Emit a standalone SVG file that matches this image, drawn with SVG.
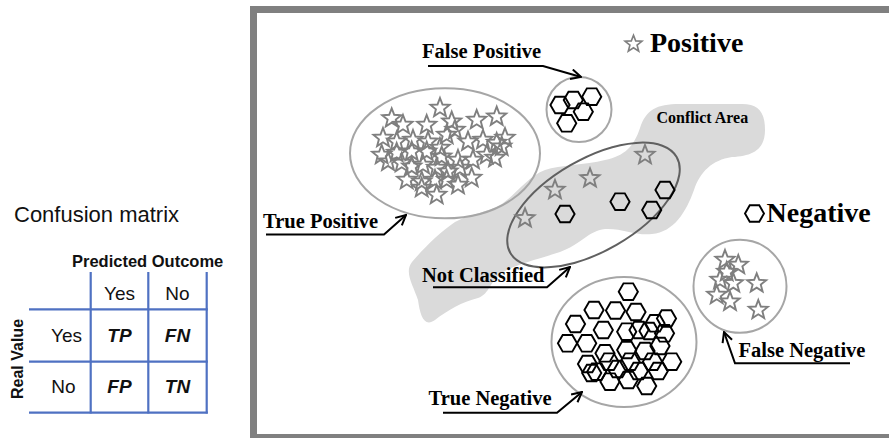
<svg xmlns="http://www.w3.org/2000/svg" xmlns:xlink="http://www.w3.org/1999/xlink" width="889" height="438" viewBox="0 0 889 438">
<style>
.sans{font-family:"Liberation Sans",Arial,sans-serif;fill:#111}
.serif{font-family:"Liberation Serif","Times New Roman",serif;font-weight:bold;fill:#000}
.grid{stroke:#4f71c2;stroke-width:2.2;fill:none}
.st{fill:none;stroke:#7f7f7f;stroke-width:1.9;stroke-linejoin:miter}
.hx{fill:none;stroke:#000;stroke-width:1.9}
.ring{fill:none;stroke:#a6a6a6;stroke-width:2}
.conn{fill:none;stroke:#000;stroke-width:2}
</style>
<defs>
<path id="star" class="st" d="M0,-10 L2.53,-3.48 L9.51,-3.09 L4.09,1.33 L5.88,8.09 L0,4.3 L-5.88,8.09 L-4.09,1.33 L-9.51,-3.09 L-2.53,-3.48 Z"/>
<path id="hex" class="hx" d="M9.6,0 L4.8,8.31 L-4.8,8.31 L-9.6,0 L-4.8,-8.31 L4.8,-8.31 Z"/>
<marker id="arr" viewBox="0 0 12 12" refX="11" refY="6" markerWidth="12" markerHeight="12" markerUnits="userSpaceOnUse" orient="auto">
<path d="M1,1 L11,6 L1,11" fill="none" stroke="#000" stroke-width="2"/>
</marker>
</defs>
<rect width="889" height="438" fill="#fff"/>

<g id="confusion-matrix">
<text class="sans" x="14" y="222" font-size="22">Confusion matrix</text>
<text class="sans" x="72" y="267" font-size="16.5" font-weight="bold">Predicted Outcome</text>
<text class="sans" transform="translate(23,359) rotate(-90)" text-anchor="middle" font-size="16" font-weight="bold">Real Value</text>
<line class="grid" x1="90.7" y1="272" x2="90.7" y2="413.5"/>
<line class="grid" x1="148.3" y1="272" x2="148.3" y2="413.5"/>
<line class="grid" x1="206.7" y1="272" x2="206.7" y2="413.5"/>
<line class="grid" x1="29" y1="309.3" x2="207.8" y2="309.3"/>
<line class="grid" x1="29" y1="361.7" x2="207.8" y2="361.7"/>
<line class="grid" x1="29" y1="412.7" x2="207.8" y2="412.7"/>
<text class="sans" x="119.5" y="300" font-size="19" text-anchor="middle">Yes</text>
<text class="sans" x="177.5" y="300" font-size="19" text-anchor="middle">No</text>
<text class="sans" x="66.5" y="342" font-size="19" text-anchor="middle">Yes</text>
<text class="sans" x="63.5" y="393" font-size="19" text-anchor="middle">No</text>
<text class="sans" x="119.5" y="342" font-size="19" text-anchor="middle" font-weight="bold" font-style="italic">TP</text>
<text class="sans" x="177.5" y="342" font-size="19" text-anchor="middle" font-weight="bold" font-style="italic">FN</text>
<text class="sans" x="119.5" y="393" font-size="19" text-anchor="middle" font-weight="bold" font-style="italic">FP</text>
<text class="sans" x="177.5" y="393" font-size="19" text-anchor="middle" font-weight="bold" font-style="italic">TN</text>
</g>

<rect id="frame" x="253.5" y="9.5" width="650" height="428" fill="none" stroke="#808080" stroke-width="7"/>

<g id="conflict-area">
<path fill="#dadada" d="M640,128 C646,110 656,104 680,104 L742,104 C760,104 765,114 765,130 C765,150 752,156 732,157 C712,160 700,172 694,190 C686,212 674,232 652,234 C636,236 622,228 605,229 C588,231 580,245 560,252 C535,260 515,265 503,272 C490,280 490,294 478,298 C462,302 448,310 435,320 C424,328 420,315 418,300 C413,285 404,272 412,262 C424,248 440,232 455,222 C470,214 488,212 500,205 C515,196 528,176 545,170 C560,165 585,165 605,160 C625,156 634,146 640,128 Z"/>
<text class="serif" x="656.5" y="122.7" font-size="16">Conflict Area</text>
</g>

<g id="legend-positive">
<use href="#star" transform="translate(633.5,44) scale(0.88)"/>
<text class="serif" x="650" y="51.7" font-size="28">Positive</text>
</g>
<g id="legend-negative">
<path class="hx" d="M764,213.5 L759.25,221.7 L749.75,221.7 L745,213.5 L749.75,205.3 L759.25,205.3 Z"/>
<text class="serif" x="766.5" y="221.7" font-size="28">Negative</text>
</g>

<g id="true-positive">
<ellipse class="ring" cx="445" cy="153.3" rx="95" ry="65"/>
<use href="#star" x="440" y="108"/>
<use href="#star" x="391.7" y="118.3"/><use href="#star" x="403" y="125"/><use href="#star" x="426.7" y="125"/><use href="#star" x="451.7" y="121.7"/><use href="#star" x="476.7" y="120"/><use href="#star" x="496.7" y="116.7"/>
<use href="#star" x="383" y="138"/><use href="#star" x="396.7" y="141.7"/><use href="#star" x="413" y="140"/><use href="#star" x="428" y="141.7"/><use href="#star" x="446.7" y="135"/><use href="#star" x="455" y="130"/><use href="#star" x="468" y="141.7"/><use href="#star" x="483" y="140"/><use href="#star" x="505" y="138"/><use href="#star" x="496.7" y="143"/>
<use href="#star" x="381.7" y="155"/><use href="#star" x="396.7" y="153"/><use href="#star" x="411.7" y="151.7"/><use href="#star" x="426.7" y="151.7"/><use href="#star" x="440" y="148"/><use href="#star" x="441.7" y="156.7"/><use href="#star" x="458" y="160"/><use href="#star" x="473" y="160"/><use href="#star" x="486.7" y="155"/><use href="#star" x="495" y="158"/><use href="#star" x="501.7" y="146.7"/>
<use href="#star" x="388" y="161.7"/><use href="#star" x="401.7" y="163"/><use href="#star" x="411.7" y="166.7"/><use href="#star" x="423" y="165"/><use href="#star" x="436.7" y="168"/><use href="#star" x="448" y="171.7"/><use href="#star" x="460" y="168"/>
<use href="#star" x="406.7" y="180"/><use href="#star" x="421.7" y="181.7"/><use href="#star" x="435" y="180"/><use href="#star" x="446.7" y="180"/><use href="#star" x="458" y="185"/><use href="#star" x="471.7" y="178"/><use href="#star" x="421.7" y="188"/><use href="#star" x="436.7" y="195"/>
<text class="serif" x="263" y="228" font-size="20.5">True Positive</text>
</g>

<g id="false-positive">
<circle class="ring" cx="579" cy="109.5" r="32.5"/>
<use href="#hex" x="560" y="105"/><use href="#hex" x="573.3" y="100"/><use href="#hex" x="591.7" y="96.7"/><use href="#hex" x="583.3" y="111.7"/><use href="#hex" x="566.7" y="123.3"/>
<text class="serif" x="422" y="58" font-size="20.5">False Positive</text>
</g>

<g id="not-classified">
<ellipse cx="0" cy="0" rx="96" ry="46" fill="none" stroke="#606060" stroke-width="2" transform="translate(593.5,205) rotate(-30)"/>
<use href="#star" x="525" y="218.3"/><use href="#star" x="555" y="190"/><use href="#star" x="590" y="178.3"/><use href="#star" x="645" y="155"/>
<use href="#hex" x="565" y="214"/><use href="#hex" x="620" y="201.7"/><use href="#hex" x="665" y="190"/><use href="#hex" x="651.7" y="210"/>
<text class="serif" x="422" y="281.7" font-size="20.5">Not Classified</text>
</g>

<g id="true-negative">
<ellipse class="ring" cx="624" cy="342" rx="72.5" ry="65"/>
<use href="#hex" x="628.3" y="291.7"/>
<use href="#hex" x="594" y="310"/><use href="#hex" x="615.5" y="310.5"/><use href="#hex" x="636" y="312"/><use href="#hex" x="666.5" y="318.5"/><use href="#hex" x="655" y="323.3"/>
<use href="#hex" x="575.5" y="324"/><use href="#hex" x="603.3" y="330"/><use href="#hex" x="626.7" y="331.7"/><use href="#hex" x="639" y="330"/><use href="#hex" x="649" y="331"/><use href="#hex" x="664.5" y="333.3"/>
<use href="#hex" x="567.5" y="343.3"/><use href="#hex" x="586.7" y="343.3"/><use href="#hex" x="605" y="353.3"/><use href="#hex" x="626.7" y="350"/><use href="#hex" x="645" y="351"/><use href="#hex" x="660" y="346"/>
<use href="#hex" x="587.5" y="364"/><use href="#hex" x="609" y="361.7"/><use href="#hex" x="630" y="361.7"/><use href="#hex" x="652.5" y="361.7"/><use href="#hex" x="671.7" y="361.7"/>
<use href="#hex" x="596.7" y="371.7"/><use href="#hex" x="617.5" y="369"/><use href="#hex" x="638.3" y="371"/><use href="#hex" x="658.3" y="371"/><use href="#hex" x="591.7" y="373"/>
<use href="#hex" x="610" y="381.7"/><use href="#hex" x="628.3" y="380"/><use href="#hex" x="646.7" y="386"/>
<text class="serif" x="428.5" y="405" font-size="20.5">True Negative</text>
</g>

<g id="false-negative">
<circle class="ring" cx="740" cy="286.3" r="46.5"/>
<use href="#star" x="725" y="260"/><use href="#star" x="738.3" y="265"/><use href="#star" x="726.7" y="272"/><use href="#star" x="720" y="280"/><use href="#star" x="733.3" y="283.3"/><use href="#star" x="716.7" y="295"/><use href="#star" x="730" y="301.7"/><use href="#star" x="756.7" y="283.3"/><use href="#star" x="758.3" y="310"/>
<text class="serif" x="738.5" y="356.7" font-size="20.5">False Negative</text>
</g>

<g id="connectors">
<path class="conn" d="M428,66 L543,66 L581,77" marker-end="url(#arr)"/>
<path class="conn" d="M266,234.5 L384,234.5 L406,215" marker-end="url(#arr)"/>
<path class="conn" d="M433,287.3 L547,287.3 L570,267" marker-end="url(#arr)"/>
<path class="conn" d="M443,412.7 L557,412.7 L582,392" marker-end="url(#arr)"/>
<path class="conn" d="M850,363.3 L735,363.3 L724,332" marker-end="url(#arr)"/>
</g>
</svg>
